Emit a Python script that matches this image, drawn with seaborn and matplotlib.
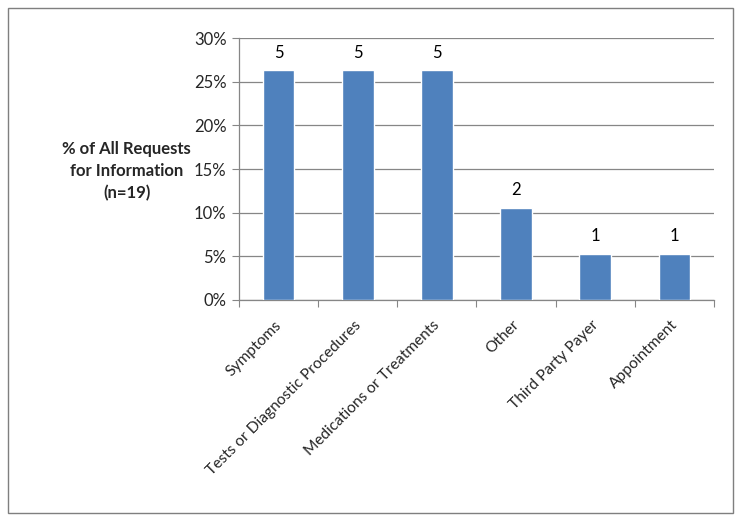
import matplotlib
matplotlib.use("Agg")
import matplotlib.pyplot as plt
import matplotlib.transforms as mtransforms
import seaborn as sns
import pandas as pd
from matplotlib.patches import Rectangle
from matplotlib.ticker import PercentFormatter, FixedLocator

categories = ["Symptoms", "Tests or Diagnostic Procedures", "Medications or Treatments",
              "Other", "Third Party Payer", "Appointment"]
counts = [5, 5, 5, 2, 1, 1]
total = 19
yticks = [0, 0.05, 0.10, 0.15, 0.20, 0.25, 0.30]

df = pd.DataFrame({"category": categories, "count": counts})
df["share"] = df["count"] / total

sns.set_style("white")
plt.rcParams["font.family"] = ["Lato", "DejaVu Sans"]

fig = plt.figure(figsize=(7.41, 5.20), dpi=100)
ax = fig.add_axes([0.3225, 0.4231, 0.641, 0.5038])

sns.barplot(data=df, x="category", y="share", color="#4F81BD", width=0.4,
            saturation=1, ax=ax, zorder=3)

# count labels above bars
for i, (c, s) in enumerate(zip(df["count"], df["share"])):
    ax.text(i, s + 0.011, str(c), ha="center", va="bottom", fontsize=12, color="black")

ax.set_ylim(0, 0.30)
ax.set_xlim(-0.5, len(categories) - 0.5)
ax.set_yticks(yticks)
ax.yaxis.set_major_formatter(PercentFormatter(1.0, decimals=0))
ax.grid(axis="y", color="#868686", linewidth=0.9, zorder=0)
ax.set_axisbelow(True)

# ticks between categories, labels at centres
ax.xaxis.set_major_locator(FixedLocator([i - 0.5 for i in range(len(categories) + 1)]))
ax.xaxis.set_major_formatter(plt.NullFormatter())
ax.xaxis.set_minor_locator(FixedLocator(list(range(len(categories)))))
ax.set_xticklabels(categories, minor=True, rotation=45, ha="right",
                   rotation_mode="anchor", fontsize=11.2)
ax.tick_params(axis="x", which="major", length=5, color="#868686", direction="out", bottom=True)
ax.tick_params(axis="x", which="minor", length=0, pad=10)
ax.tick_params(axis="y", length=5, color="#868686", direction="out", left=True,
               labelsize=12, pad=4)

shift = mtransforms.ScaledTranslation(-3 / 72, -3 / 72, fig.dpi_scale_trans)
for lbl in ax.get_xticklabels(minor=True):
    lbl.set_transform(lbl.get_transform() + shift)

for side in ["top", "right"]:
    ax.spines[side].set_visible(False)
for side in ["left", "bottom"]:
    ax.spines[side].set_color("#868686")
    ax.spines[side].set_linewidth(0.9)

ax.set_xlabel("")
ax.set_ylabel("")
fig.text(0.171, 0.671, "% of All Requests\nfor Information\n(n=19)", ha="center", va="center",
         fontsize=12, fontweight="bold", linespacing=1.45)

fig.patches.append(Rectangle((0.011, 0.013), 0.978, 0.972, transform=fig.transFigure,
                             fill=False, edgecolor="#7f7f7f", linewidth=1))

fig.savefig("out.png", dpi=100)
